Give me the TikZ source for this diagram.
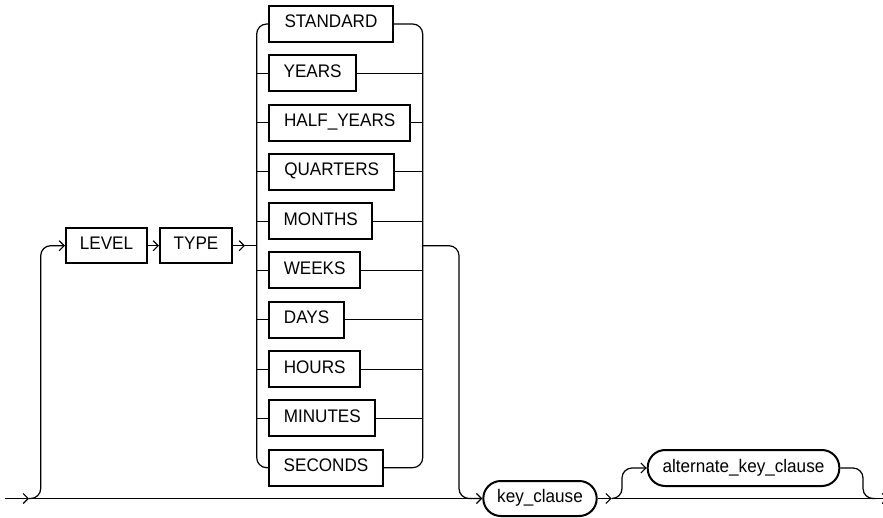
\documentclass[tikz,border=0pt]{standalone}
\usepackage{fontspec}
\setmainfont[FakeStretch=0.94]{Liberation Sans}
\usetikzlibrary{arrows.meta}
\tikzset{
  conn/.style={line width=1.2pt, black},
  arr/.style={-{Straight Barb[length=5pt,width=10pt]}},
  kw/.style={draw, line width=2pt, inner sep=0pt, minimum height=36pt,
    font=\fontsize{18.2}{21}\selectfont, text height=12.2pt, text depth=4.2pt},
  ref/.style={kw, rounded corners=17.5pt, minimum height=35pt},
}
\begin{document}
\begin{tikzpicture}[x=1pt,y=-1pt]
\path[use as bounding box, clip] (0,0) rectangle (883,518);
% keyword boxes
\node[kw, minimum width=81pt, minimum height=35pt] (level) at (106.5,245.7) {LEVEL};
\node[kw, minimum width=72pt, minimum height=35pt] (type) at (196,245.7) {TYPE};
\node[kw, minimum width=123.4pt] (standard) at (331,24) {STANDARD};
\node[kw, minimum width=86.7pt] (years) at (312.65,73.3) {YEARS};
\node[kw, minimum width=140.7pt] (halfyears) at (339.65,122.6) {HALF\_YEARS};
\node[kw, minimum width=124.7pt] (quarters) at (331.65,171.9) {QUARTERS};
\node[kw, minimum width=103pt] (months) at (320.8,221.2) {MONTHS};
\node[kw, minimum width=90.7pt] (weeks) at (314.65,270.5) {WEEKS};
\node[kw, minimum width=74.7pt] (days) at (306.65,319.8) {DAYS};
\node[kw, minimum width=90.7pt] (hours) at (314.65,369.1) {HOURS};
\node[kw, minimum width=106pt] (minutes) at (322.3,418.4) {MINUTES};
\node[kw, minimum width=113.4pt] (seconds) at (326,467.7) {SECONDS};
\node[ref, minimum width=113.4pt] (key) at (540,498.5) {key\_clause};
\node[ref, minimum width=191.6pt, minimum height=36pt] (akc) at (743.5,468) {alternate\_key\_clause};
% coordinates
\coordinate (start) at (5,498.5);
\coordinate (a1) at (29,498.5);
\coordinate (bx) at (40.7,0);
\coordinate (lx) at (256.7,0);
\coordinate (rx) at (422.7,0);
\coordinate (a4) at (245,245.7);
\coordinate (exitx) at (459,0);
\coordinate (a6) at (611.7,498.5);
\coordinate (brx) at (622,0);
\coordinate (rbx) at (863,0);
\coordinate (join) at (875,498.5);
\coordinate (fin) at (888,498.5);
% main line
\draw[conn, arr] (start) -- (a1);
\draw[conn] (a1) -- (key.west);
\draw[conn, arr, rounded corners=10pt] (a1) -- (a1 -| bx) -- (level.west -| bx) -- (level.west);
\draw[conn, arr] (level.east) -- (type.west);
\draw[conn, arr] (type.east) -- (a4);
\draw[conn] (a4) -- (a4 -| lx);
% choice rails
\draw[conn, rounded corners=10pt] (standard.west) -- (standard.west -| lx) -- (seconds.west -| lx) -- (seconds.west);
\draw[conn, rounded corners=10pt] (standard.east) -- (standard.east -| rx) -- (seconds.east -| rx) -- (seconds.east);
\foreach \b in {years,halfyears,quarters,months,weeks,days,hours,minutes}{
  \draw[conn] (\b.west -| lx) -- (\b.west);
  \draw[conn] (\b.east) -- (\b.east -| rx);
}
% exit of choice to key_clause
\draw[conn, arr, rounded corners=10pt] (a4 -| rx) -- (a4 -| exitx) -- (key.west -| exitx) -- (key.west);
% after key_clause
\draw[conn, arr] (key.east) -- (a6);
\draw[conn, arr] (a6) -- (fin);
\draw[conn, arr, rounded corners=10pt] (a6) -- (a6 -| brx) -- (akc.west -| brx) -- (akc.west);
\draw[conn, rounded corners=10pt] (akc.east) -- (akc.east -| rbx) -- (join -| rbx) -- (join);
\end{tikzpicture}
\end{document}
